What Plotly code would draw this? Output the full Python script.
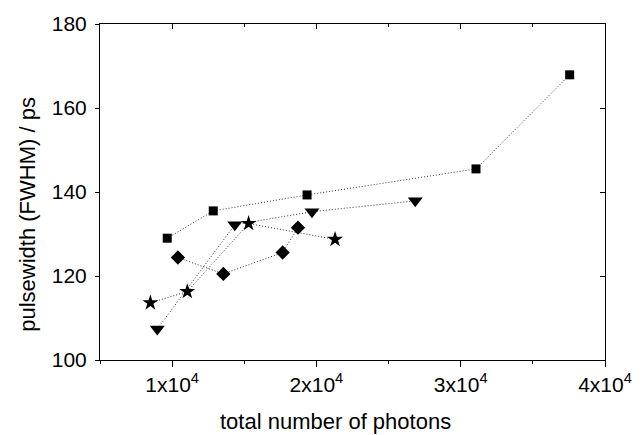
import plotly.graph_objects as go

# Data
sq_x = [9660, 12850, 19350, 31060, 37550]
sq_y = [129.0, 135.5, 139.3, 145.5, 167.9]

tri_x = [8970, 14340, 19690, 26850]
tri_y = [107.4, 132.2, 135.3, 137.9]

star_x = [8490, 11050, 15300, 21290]
star_y = [113.6, 116.3, 132.5, 128.7]

dia_x = [10400, 13550, 17660, 18720]
dia_y = [124.4, 120.5, 125.6, 131.5]

x_tickvals = [10000, 20000, 30000, 40000]
x_ticktext = ["1x10<sup>4</sup>", "2x10<sup>4</sup>", "3x10<sup>4</sup>", "4x10<sup>4</sup>"]
y_tickvals = [100, 120, 140, 160, 180]

FONT = "Liberation Sans, Arial, Helvetica, sans-serif"
LINE = dict(color="#333333", width=1, dash="1px,2px")

fig = go.Figure()
series = [
    (sq_x, sq_y, "square", 9),
    (tri_x, tri_y, "triangle-down", 13),
    (star_x, star_y, "star", 12),
    (dia_x, dia_y, "diamond", 11),
]
for xs, ys, sym, sz in series:
    fig.add_trace(go.Scatter(
        x=xs, y=ys, mode="lines+markers",
        line=LINE,
        marker=dict(symbol=sym, size=sz, color="black", line=dict(width=0)),
        showlegend=False, hoverinfo="skip",
    ))
# dummy trace for mirrored (inside-tick) axes
fig.add_trace(go.Scatter(x=[None], y=[None], xaxis="x2", yaxis="y2",
                         showlegend=False, hoverinfo="skip"))

axis_common = dict(showgrid=False, zeroline=False, showline=True,
                   linecolor="black", linewidth=1, tickcolor="black",
                   tickwidth=1)

fig.update_layout(
    width=644, height=435,
    margin=dict(l=100, r=39, t=22, b=75),
    paper_bgcolor="white", plot_bgcolor="white",
    font=dict(family=FONT, size=21, color="black"),
    xaxis=dict(range=[5000, 40000], tickmode="array", tickvals=x_tickvals,
               ticktext=x_ticktext, ticks="outside", ticklen=6,
               minor=dict(dtick=5000, tick0=0, ticks="outside", ticklen=3,
                          tickcolor="black", showgrid=False),
               **axis_common),
    yaxis=dict(range=[100, 180], tickmode="array", tickvals=y_tickvals,
               ticks="outside", ticklen=4, ticklabelstandoff=4,
               **axis_common),
    xaxis2=dict(range=[5000, 40000], overlaying="x", side="top",
                anchor="y2", tickmode="array", tickvals=x_tickvals,
                showticklabels=False, ticks="inside", ticklen=5,
                minor=dict(dtick=5000, tick0=0, ticks="inside", ticklen=3,
                           tickcolor="black", showgrid=False),
                **axis_common),
    yaxis2=dict(range=[100, 180], overlaying="y", side="right",
                anchor="x2", tickmode="array", tickvals=y_tickvals,
                showticklabels=False, ticks="inside", ticklen=5,
                **axis_common),
    annotations=[
        dict(text="total number of photons", xref="paper", yref="paper",
             x=0.467, y=-0.183, xanchor="center", yanchor="middle",
             showarrow=False, font=dict(family=FONT, size=22, color="black")),
        dict(text="pulsewidth (FWHM) / ps", xref="paper", yref="paper",
             x=-0.1426, y=0.435, xanchor="center", yanchor="middle",
             textangle=-90, showarrow=False,
             font=dict(family=FONT, size=22, color="black")),
    ],
)

fig.write_html("out.html")
